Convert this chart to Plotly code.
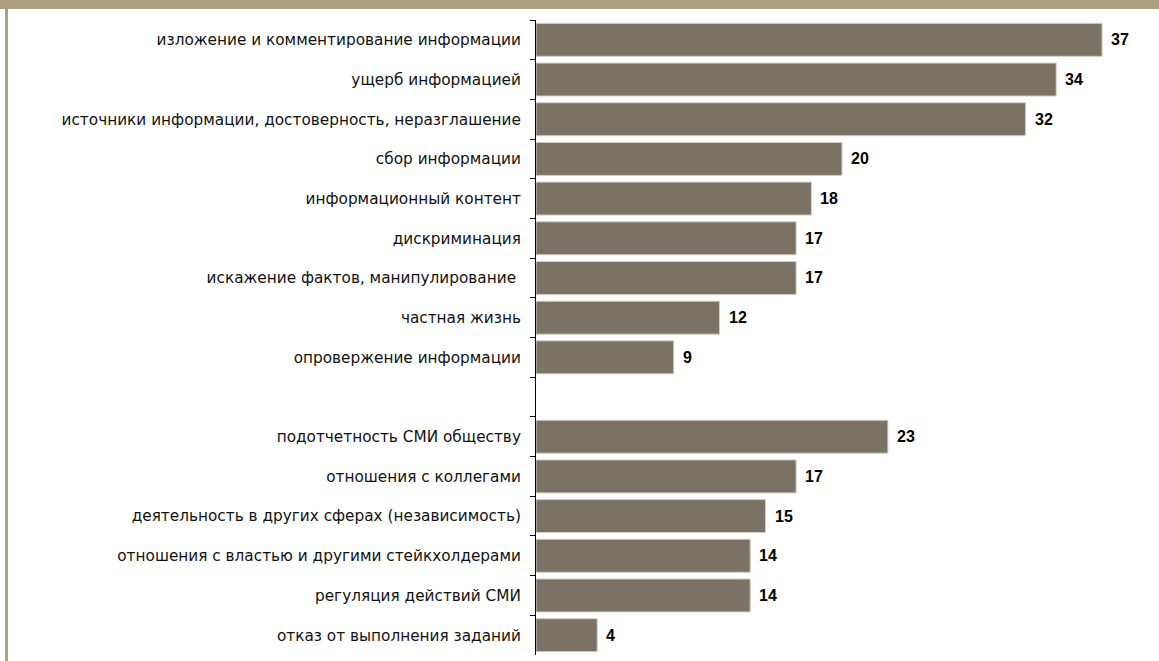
import plotly.graph_objects as go

# Categories, top to bottom; the blank entry separates the two groups
categories = [
    "изложение и комментирование информации",
    "ущерб информацией",
    "источники информации, достоверность, неразглашение",
    "сбор информации",
    "информационный контент",
    "дискриминация",
    "искажение фактов, манипулирование ",
    "частная жизнь",
    "опровержение информации",
    " ",
    "подотчетность СМИ обществу",
    "отношения с коллегами",
    "деятельность в других сферах (независимость)",
    "отношения с властью и другими стейкхолдерами",
    "регуляция действий СМИ",
    "отказ от выполнения заданий",
]
values = [37, 34, 32, 20, 18, 17, 17, 12, 9, None, 23, 17, 15, 14, 14, 4]

BAR_COLOR = "#7a7262"
FRAME_COLOR = "#ad9f80"
LABEL_FONT = "DejaVu Sans"

fig = go.Figure(
    go.Bar(
        x=values,
        y=categories,
        orientation="h",
        marker=dict(color=BAR_COLOR, line=dict(color="#d2cec6", width=1)),
        width=0.83,
        hoverinfo="skip",
    )
)

# Value labels to the right of each bar
for cat, v in zip(categories, values):
    if v is None:
        continue
    fig.add_annotation(
        x=v, y=cat, text=f"<b>{v}</b>", showarrow=False,
        xanchor="left", yanchor="middle", xshift=7,
        font=dict(family="Liberation Sans, Arial", size=16, color="#000000"),
    )

# Tan frame: band along the top and a strip at the left edge
fig.add_shape(type="rect", xref="paper", yref="paper",
              x0=-1.0, x1=1.1, y0=1.0173, y1=1.05,
              fillcolor=FRAME_COLOR, line=dict(width=0), layer="above")
fig.add_shape(type="rect", xref="paper", yref="paper",
              x0=-0.8676, x1=-0.8627, y0=-0.05, y1=1.05,
              fillcolor=FRAME_COLOR, line=dict(width=0), layer="above")

fig.update_layout(
    width=1159,
    height=661,
    margin=dict(l=536, r=11, t=20, b=6),
    paper_bgcolor="#ffffff",
    plot_bgcolor="#ffffff",
    showlegend=False,
    xaxis=dict(range=[0, 40], visible=False),
    yaxis=dict(
        type="category",
        categoryorder="array",
        categoryarray=categories,
        autorange="reversed",
        showline=True,
        linecolor="#000000",
        linewidth=1,
        ticks="outside",
        tickson="boundaries",
        ticklen=5,
        tickcolor="#000000",
        tickfont=dict(family=LABEL_FONT, size=15.3, color="#111111"),
        ticklabelstandoff=11,
        showgrid=False,
    ),
)

fig.write_html("out.html")
